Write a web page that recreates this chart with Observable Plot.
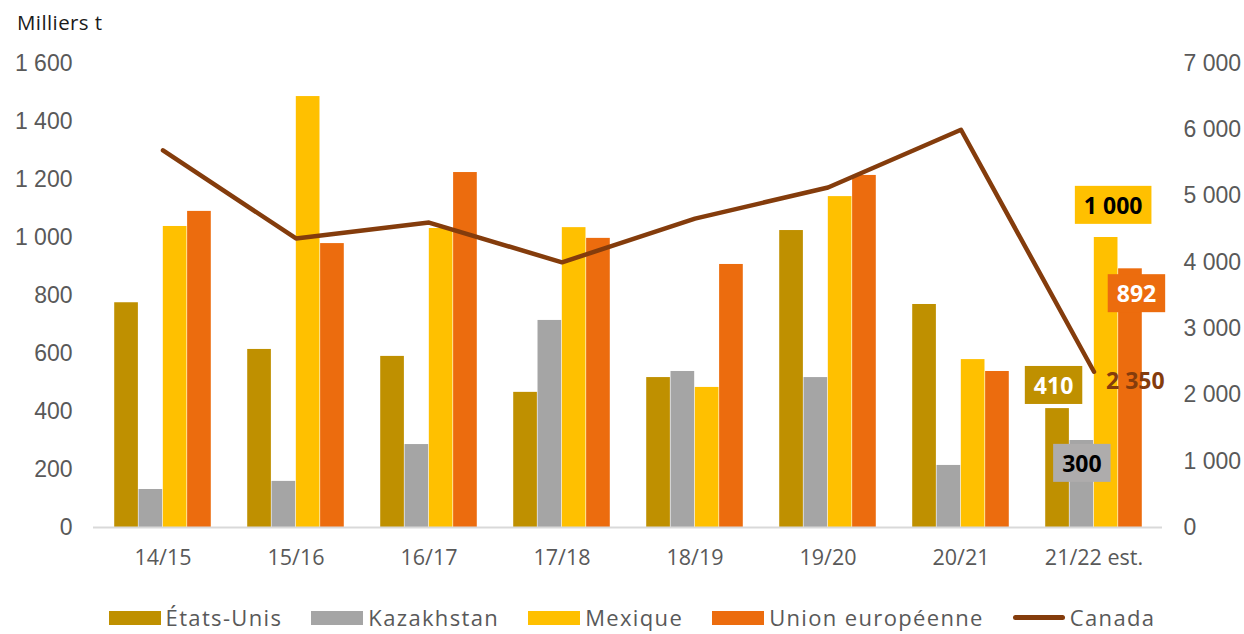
<!DOCTYPE html>
<html><head><meta charset="utf-8">
<script src="https://cdn.jsdelivr.net/npm/d3@7"></script>
<script src="https://cdn.jsdelivr.net/npm/@observablehq/plot@0.6"></script>
<style>
body{margin:0;background:#fff;}
#wrap{position:relative;width:1244px;height:634px;font-family:"Open Sans",Lato,sans-serif;overflow:hidden;}
#chart{position:absolute;left:0;top:0;}
#unit{position:absolute;left:17px;top:8px;font-size:20.5px;letter-spacing:0.4px;color:#1a1a1a;}
#legend{position:absolute;top:605px;left:10px;width:1244px;height:25px;line-height:25px;display:flex;justify-content:center;align-items:center;gap:29px;font-size:22px;letter-spacing:1.35px;color:#595959;}
.item{display:flex;align-items:center;gap:5px;height:25px;}
.item .tx{display:inline-block;line-height:25px;height:25px;}
.sw{width:52px;height:14px;display:inline-block;}
.ln{width:52px;height:5px;border-radius:3px;display:inline-block;}
</style></head>
<body><div id="wrap"><div id="chart"></div><div id="unit">Milliers t</div><div id="legend"></div></div>
<script>
const categories = ["14/15","15/16","16/17","17/18","18/19","19/20","20/21","21/22 est."];
const etatsUnis = [775,614,590,466,517,1024,769,410];
const kazakhstan = [131,159,286,714,538,517,214,300];
const mexique = [1038,1486,1031,1034,483,1141,579,1000];
const unionEuropeenne = [1090,979,1224,997,907,1214,538,892];
const canada = [5690,4360,4600,4000,4660,5130,6000,2350];
const leftTicks = [0,200,400,600,800,1000,1200,1400,1600];
const rightTicks = [0,1000,2000,3000,4000,5000,6000,7000];
const seriesNames = ["États-Unis","Kazakhstan","Mexique","Union européenne"];
const seriesColors = ["#BF9000","#A5A5A5","#FFC000","#EC6C0E"];
const canadaName = "Canada";
const canadaColor = "#843C0C";

const seriesValues = [etatsUnis, kazakhstan, mexique, unionEuropeenne];
const fmt = d3.formatLocale({decimal:",", thousands:" ", grouping:[3], currency:["","€"]}).format(",d");
const W = 1244, H = 580, mL = 93, mR = 82, mT = 63, mB = 53;
const bw = (W - mL - mR) / categories.length;
const barW = 24.3;
const ratio = 1600 / 7000;
const FONT = "'Open Sans', Lato, sans-serif";

const barMarks = seriesValues.map((vals, i) => Plot.barY(
  categories.map((c, j) => ({c, v: vals[j]})),
  {x: "c", y: "v", fill: seriesColors[i],
   insetLeft: bw/2 + (i-2)*barW, insetRight: bw/2 - (i-1)*barW}
));

const canadaData = categories.map((c, j) => ({c, v: canada[j] * ratio, raw: canada[j]}));
const last = categories.length - 1;
const lc = categories[last];

const boxLabels = [
  {c: lc, v: etatsUnis[last], dx: -4, dy: -22, color: "#fff", box: "#BF9000"},
  {c: lc, v: kazakhstan[last], dx: 0, dy: 24, color: "#000", box: "#AEACAC"},
  {c: lc, v: mexique[last], dx: 7, dy: -31, color: "#000", box: "#FFC000"},
  {c: lc, v: unionEuropeenne[last], dx: 6, dy: 26, color: "#fff", box: "#EC6C0E"}
];
const boxOffsets = [-1.5, -0.5, 0.5, 1.5];

const plot = Plot.plot({
  width: W, height: H, marginLeft: mL, marginRight: mR, marginTop: mT, marginBottom: mB,
  style: {fontFamily: FONT, fontSize: "21px", color: "#595959", background: "#fff"},
  x: {type: "band", domain: categories, padding: 0, axis: null},
  y: {domain: [0, 1600], axis: null},
  marks: [
    ...barMarks,
    Plot.ruleY([0], {stroke: "#D9D9D9", strokeWidth: 2}),
    Plot.axisX({tickSize: 0, tickPadding: 22, label: null, fontSize: 21.5, fontFamily: FONT}),
    Plot.axisY({ticks: leftTicks, anchor: "left", tickSize: 0, tickPadding: 21, label: null,
      tickFormat: fmt, fontSize: 23, fontFamily: "'Liberation Sans', Arial, sans-serif"}),
    Plot.axisY({ticks: rightTicks.map(v => v * ratio), anchor: "right", tickSize: 0, tickPadding: 21, label: null,
      tickFormat: d => fmt(Math.round(d / ratio)), fontSize: 23, fontFamily: "'Liberation Sans', Arial, sans-serif"}),
    Plot.line(canadaData, {x: "c", y: "v", stroke: canadaColor, strokeWidth: 4.5, strokeLinecap: "round", strokeLinejoin: "round"}),
    ...boxLabels.map((b, i) => Plot.text([b], {x: "c", y: "v", text: d => fmt(d.v),
      dx: boxOffsets[i] * barW + b.dx, dy: b.dy, fill: b.color, fontWeight: "bold", fontSize: 23,
      fontFamily: FONT, ariaDescription: "boxlabel" + i})),
    Plot.text([canadaData[last]], {x: "c", y: "v", text: d => fmt(d.raw), textAnchor: "start",
      dx: 12, dy: 10, fill: canadaColor, fontWeight: "bold", fontSize: 23, fontFamily: FONT})
  ]
});
document.getElementById("chart").appendChild(plot);

boxLabels.forEach((b, i) => {
  const els = plot.querySelectorAll(`[aria-description="boxlabel${i}"]`);
  els.forEach(el => {
    const texts = el.tagName.toLowerCase() === "text" ? [el] : Array.from(el.querySelectorAll("text"));
    texts.forEach(t => {
      const bb = t.getBBox();
      const padX = 9, h = 38;
      const cy = bb.y + bb.height / 2;
      const r = document.createElementNS("http://www.w3.org/2000/svg", "rect");
      r.setAttribute("x", bb.x - padX);
      r.setAttribute("y", cy - h / 2);
      r.setAttribute("width", bb.width + 2 * padX);
      r.setAttribute("height", h);
      r.setAttribute("fill", b.box);
      const tr = t.getAttribute("transform");
      if (tr) r.setAttribute("transform", tr);
      t.parentNode.insertBefore(r, t);
    });
  });
});

const legend = document.getElementById("legend");
seriesNames.forEach((n, i) => {
  const it = document.createElement("div"); it.className = "item";
  it.innerHTML = `<span class="sw" style="background:${seriesColors[i]}"></span><span class="tx">${n}</span>`;
  legend.appendChild(it);
});
const itc = document.createElement("div"); itc.className = "item";
itc.innerHTML = `<span class="ln" style="background:${canadaColor}"></span><span class="tx">${canadaName}</span>`;
legend.appendChild(itc);
</script>
</body></html>
